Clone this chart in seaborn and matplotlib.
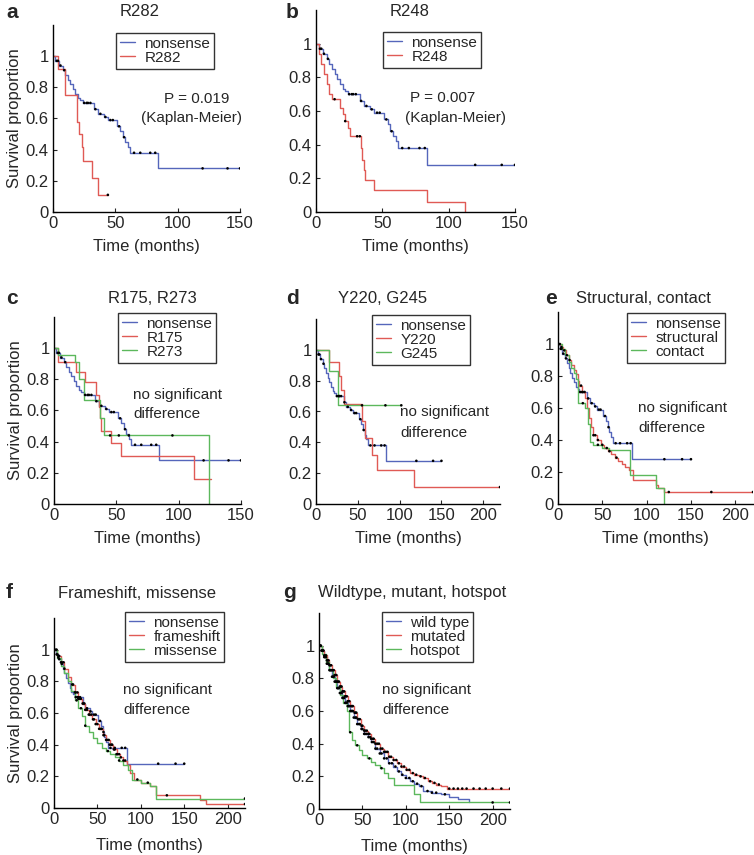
import numpy as np
import matplotlib
matplotlib.use("Agg")
import matplotlib.pyplot as plt
import seaborn as sns

sns.set_style("ticks")
plt.rcParams['font.family'] = ['Liberation Sans', 'DejaVu Sans']

BLUE = '#5566bb'
RED = '#e05a55'
GREEN = '#5cb85c'

# ---- nonsense (shared by a-f) ----
nons_t = [0, 2, 5, 8, 10, 12, 14, 16, 18, 20, 22, 24, 33, 36, 41, 44, 51, 54, 56, 58, 60, 62, 84, 150]
nons_s = [1.0, 0.97, 0.94, 0.91, 0.88, 0.85, 0.82, 0.79, 0.76, 0.73, 0.72, 0.70, 0.66, 0.63, 0.61, 0.59,
          0.55, 0.52, 0.48, 0.45, 0.42, 0.38, 0.28, 0.28]
nons_c = [3, 4, 6, 9, 25, 27, 28, 30, 34, 38, 42, 46, 48, 53, 57, 65, 70, 78, 82, 120, 140, 150]

# ---- a ----
r282_t = [0, 4, 10, 19, 21, 23, 24, 31, 36, 44]
r282_s = [1.0, 0.92, 0.75, 0.58, 0.50, 0.42, 0.33, 0.22, 0.11, 0.11]
r282_c = [44]

# ---- b ----
r248_t = [0, 2, 4, 6, 8, 10, 12, 18, 20, 22, 24, 26, 34, 35, 36, 37, 44, 84, 112]
r248_s = [1.0, 0.94, 0.88, 0.82, 0.76, 0.70, 0.67, 0.62, 0.58, 0.54, 0.50, 0.45, 0.38, 0.31, 0.25,
          0.19, 0.13, 0.06, 0.0]
r248_c = [14, 22, 31, 33]

# ---- c ----
r175_t = [0, 3.5, 18, 25, 34, 36, 37, 38, 46, 54, 112, 126]
r175_s = [1.0, 0.91, 0.85, 0.78, 0.70, 0.62, 0.55, 0.47, 0.39, 0.31, 0.16, 0.16]
r175_c = []
r273_t = [0, 3, 17, 20, 24, 37, 40, 124]
r273_s = [1.0, 0.955, 0.91, 0.80, 0.67, 0.55, 0.44, 0.0]
r273_c = [45, 52, 60, 95]

# ---- d ----
y220_t = [0, 15, 27, 30, 34, 55, 59, 67, 73, 117, 220]
y220_s = [1.0, 0.92, 0.83, 0.74, 0.65, 0.54, 0.43, 0.32, 0.22, 0.11, 0.11]
y220_c = [220]
g245_t = [0, 16, 26, 102]
g245_s = [1.0, 0.86, 0.64, 0.64]
g245_c = [55, 83, 102]

# ---- e ----
struct_t = [0, 3, 6, 9, 12, 15, 18, 20, 22, 24, 27, 30, 33, 35, 37, 40, 44, 48, 52, 56, 60, 64, 68,
            72, 76, 80, 85, 110, 113, 120, 220]
struct_s = [1.0, 0.98, 0.96, 0.93, 0.90, 0.87, 0.84, 0.81, 0.77, 0.74, 0.70, 0.66, 0.60, 0.54, 0.48,
            0.43, 0.40, 0.37, 0.35, 0.33, 0.31, 0.29, 0.27, 0.25, 0.23, 0.21, 0.15, 0.12, 0.10, 0.075, 0.075]
struct_c = [2, 4, 7, 10, 13, 26, 40, 42, 45, 50, 55, 58, 66, 125, 173, 220]
contact_t = [0, 4, 8, 12, 15, 18, 20, 22, 31, 34, 36, 40, 50, 58, 81, 110, 120]
contact_s = [1.0, 0.97, 0.93, 0.89, 0.85, 0.82, 0.78, 0.63, 0.60, 0.50, 0.39, 0.37, 0.35, 0.34, 0.18, 0.10, 0.0]
contact_c = [28, 45]

# ---- f ----
frame_t = [0, 4, 8, 12, 16, 20, 24, 28, 32, 36, 40, 44, 48, 52, 56, 60, 64, 68, 72, 76, 80, 84, 88,
           92, 100, 110, 118, 168, 175, 220]
frame_s = [1.0, 0.96, 0.92, 0.88, 0.83, 0.78, 0.73, 0.69, 0.66, 0.62, 0.59, 0.56, 0.53, 0.50, 0.46,
           0.43, 0.40, 0.37, 0.34, 0.32, 0.30, 0.27, 0.22, 0.18, 0.16, 0.14, 0.08, 0.05, 0.025, 0.025]
frame_c = [3, 5, 6, 8, 9, 11, 12, 21, 22, 24, 25, 27, 28, 30, 31, 33, 35, 36, 38, 40, 41, 43, 45, 46,
           48, 50, 52, 54, 55, 57, 58, 60, 61, 63, 64, 66, 67, 69, 70, 72, 73, 75, 77, 80, 82, 96,
           108, 130, 220]
miss_t = [0, 4, 8, 12, 16, 20, 24, 28, 32, 36, 40, 45, 50, 55, 60, 65, 70, 75, 80, 85, 90, 100, 110, 118, 220]
miss_s = [1.0, 0.95, 0.90, 0.85, 0.80, 0.74, 0.68, 0.63, 0.58, 0.52, 0.48, 0.44, 0.41, 0.38, 0.36,
          0.34, 0.32, 0.30, 0.27, 0.24, 0.18, 0.16, 0.14, 0.06, 0.06]
miss_c = [2, 5, 26, 31, 36, 62, 75, 220]

# ---- g ----
mut_t = [0, 3, 6, 9, 12, 15, 18, 21, 24, 27, 30, 33, 36, 40, 44, 48, 52, 56, 60, 65, 70, 75, 80, 85,
         90, 95, 100, 105, 110, 115, 120, 125, 130, 135, 140, 147, 220]
mut_s = [1.0, 0.97, 0.94, 0.91, 0.88, 0.85, 0.82, 0.78, 0.75, 0.72, 0.69, 0.66, 0.63, 0.59, 0.55,
         0.51, 0.48, 0.46, 0.43, 0.40, 0.37, 0.35, 0.32, 0.30, 0.28, 0.26, 0.24, 0.22, 0.21, 0.20,
         0.19, 0.17, 0.16, 0.15, 0.14, 0.125, 0.125]
mut_c = [1, 2, 3, 4, 5, 6, 7, 8, 9, 10, 11, 12, 13, 14, 15, 16, 17, 18, 19, 20, 21, 22, 23, 24, 25,
         26, 27, 28, 29, 30, 31, 32, 33, 34, 35, 37, 38, 39, 41, 42, 43, 45, 46, 47, 49, 50, 52, 53,
         55, 57, 58, 60, 62, 63, 65, 67, 69, 71, 73, 75, 77, 79, 81, 83, 86, 89, 92, 95, 98, 101,
         104, 108, 112, 117, 122, 128, 133, 138, 150, 155, 160, 165, 170, 178, 185, 192, 200, 210, 220]
wt_t = [0, 3, 6, 9, 12, 15, 18, 21, 24, 27, 30, 33, 36, 40, 44, 48, 52, 56, 60, 65, 70, 75, 80, 85,
        90, 95, 100, 105, 110, 115, 120, 130, 140, 150, 160, 173]
wt_s = [1.0, 0.97, 0.93, 0.89, 0.85, 0.81, 0.78, 0.74, 0.71, 0.68, 0.65, 0.63, 0.60, 0.56, 0.52,
        0.49, 0.46, 0.44, 0.41, 0.37, 0.34, 0.31, 0.28, 0.26, 0.23, 0.21, 0.19, 0.17, 0.155, 0.14,
        0.11, 0.10, 0.09, 0.075, 0.06, 0.04]
wt_c = [1, 2, 3, 4, 5, 6, 7, 8, 9, 10, 11, 12, 13, 14, 15, 16, 17, 18, 19, 20, 21, 22, 23, 24, 25,
        26, 27, 28, 29, 30, 31, 32, 33, 34, 35, 36, 37, 38, 39, 40, 42, 43, 44, 46, 47, 49, 50, 52,
        53, 55, 57, 59, 61, 63, 65, 67, 70, 72, 75, 78, 81, 84, 88, 92, 96, 100, 104, 108, 113,
        118, 125, 130, 135, 145]
hot_t = [0, 4, 8, 12, 16, 20, 24, 28, 32, 34, 38, 42, 46, 50, 55, 60, 65, 70, 75, 80, 86, 109, 116, 220]
hot_s = [1.0, 0.95, 0.90, 0.85, 0.80, 0.75, 0.70, 0.65, 0.60, 0.47, 0.42, 0.39, 0.36, 0.33, 0.31,
         0.29, 0.27, 0.25, 0.22, 0.19, 0.15, 0.09, 0.04, 0.04]
hot_c = [36, 44, 58, 72, 200, 220]

W, H = 754, 855
fig = plt.figure(figsize=(W / 100, H / 100), dpi=100)


def rect(l, t, r, b):
    return [l / W, 1 - b / H, (r - l) / W, (b - t) / H]


def km(ax, t, s, cens, color, label):
    sns.lineplot(x=t, y=s, drawstyle='steps-post', estimator=None, sort=False,
                 color=color, lw=1.0, label=label, ax=ax)
    if len(cens):
        idx = np.searchsorted(t, cens, side='right') - 1
        sns.scatterplot(x=cens, y=np.asarray(s)[idx], color='k', s=3.5, marker='o',
                        edgecolor='none', zorder=3, legend=False, ax=ax)


def panel(box, xmax, curves, legbox, ylabel=False, note=None, xpad=6):
    l, t, r, b = box
    ax = fig.add_axes(rect(l, t, r, b))
    for tt, ss, cc, col, lab in curves:
        km(ax, tt, ss, cc, col, lab)
    ax.set_xlim(0, xmax)
    ax.set_ylim(0, 1.2)
    ax.set_yticks([0, 0.2, 0.4, 0.6, 0.8, 1])
    ax.set_yticklabels(['0', '0.2', '0.4', '0.6', '0.8', '1'])
    ax.set_xticks(list(range(0, xmax + 1, 50)))
    ax.tick_params(direction='in', length=3, width=0.8, labelsize=12, pad=3)
    for sp in ['top', 'right']:
        ax.spines[sp].set_visible(False)
    for sp in ['left', 'bottom']:
        ax.spines[sp].set_linewidth(1.0)
        ax.spines[sp].set_color('k')
    ax.set_xlabel('Time (months)', fontsize=12, labelpad=xpad)
    if ylabel:
        ax.set_ylabel('Survival proportion', fontsize=12, labelpad=3)
    else:
        ax.set_ylabel('')
    leg = ax.legend(loc='upper left', bbox_to_anchor=(legbox[0] / W, 1 - legbox[1] / H),
                    bbox_transform=fig.transFigure, borderaxespad=0, fontsize=11,
                    frameon=True, fancybox=False, handlelength=1.0, handletextpad=0.6,
                    labelspacing=0.0, borderpad=0.25)
    leg.get_frame().set_edgecolor('k')
    leg.get_frame().set_linewidth(1.0)
    if note:
        for txt, x, y in note:
            fig.text(x / W, 1 - y / H, txt, fontsize=11, ha='left', va='center')
    return ax


def label(letter, lx, title, tx, y):
    fig.text(lx / W, 1 - y / H, letter, fontsize=15, fontweight='bold', ha='left', va='center')
    fig.text(tx / W, 1 - y / H, title, fontsize=12, ha='center', va='center')


panel((53, 25, 240, 212), 150,
      [(nons_t, nons_s, nons_c, BLUE, 'nonsense'), (r282_t, r282_s, r282_c, RED, 'R282')],
      (116, 33), ylabel=True,
      note=[('P = 0.019', 164, 99), ('(Kaplan-Meier)', 141, 118)])
label('a', 6, 'R282', 140, 12)

panel((316, 10, 515, 212), 150,
      [(nons_t, nons_s, nons_c, BLUE, 'nonsense'), (r248_t, r248_s, r248_c, RED, 'R248')],
      (383, 32),
      note=[('P = 0.007', 410, 98), ('(Kaplan-Meier)', 405, 118)])
label('b', 286, 'R248', 410, 12)

nsd = 'no significant'
panel((54, 317, 241, 504), 150,
      [(nons_t, nons_s, nons_c, BLUE, 'nonsense'), (r175_t, r175_s, r175_c, RED, 'R175'),
       (r273_t, r273_s, r273_c, GREEN, 'R273')],
      (118, 313), ylabel=True,
      note=[(nsd, 133, 395), ('difference', 133, 414)])
label('c', 6, 'R175, R273', 152, 298)

panel((316, 319, 500, 504), 220,
      [(nons_t, nons_s, nons_c, BLUE, 'nonsense'), (y220_t, y220_s, y220_c, RED, 'Y220'),
       (g245_t, g245_s, g245_c, GREEN, 'G245')],
      (372, 315),
      note=[(nsd, 400, 412), ('difference', 400, 433)])
label('d', 286, 'Y220, G245', 383, 298)

panel((558, 312, 753, 504), 220,
      [(nons_t, nons_s, nons_c, BLUE, 'nonsense'), (struct_t, struct_s, struct_c, RED, 'structural'),
       (contact_t, contact_s, contact_c, GREEN, 'contact')],
      (627, 313),
      note=[(nsd, 638, 408), ('difference', 638, 428)])
label('e', 545, 'Structural, contact', 643, 298)

panel((54, 618, 245, 808), 220,
      [(nons_t, nons_s, nons_c, BLUE, 'nonsense'), (frame_t, frame_s, frame_c, RED, 'frameshift'),
       (miss_t, miss_s, miss_c, GREEN, 'missense')],
      (125, 612), ylabel=True, xpad=8,
      note=[(nsd, 123, 690), ('difference', 123, 710)])
label('f', 6, 'Frameshift, missense', 137, 593)

panel((319, 613, 510, 809), 220,
      [(wt_t, wt_s, wt_c, BLUE, 'wild type'), (mut_t, mut_s, mut_c, RED, 'mutated'),
       (hot_t, hot_s, hot_c, GREEN, 'hotspot')],
      (382, 612), xpad=8,
      note=[(nsd, 382, 690), ('difference', 382, 710)])
label('g', 283, 'Wildtype, mutant, hotspot', 412, 593)

fig.savefig('out.png', dpi=100)
